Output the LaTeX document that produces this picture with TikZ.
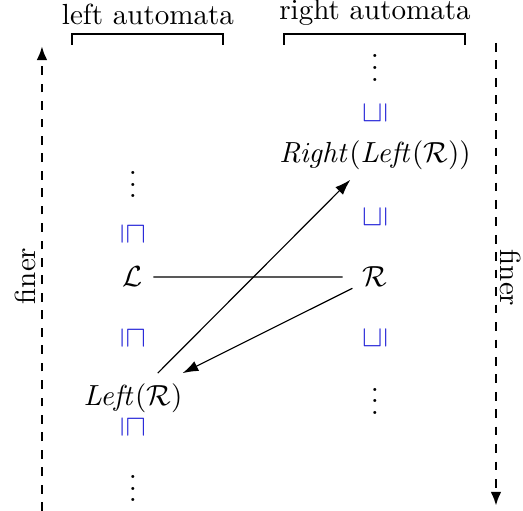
\documentclass[tikz,border=0pt]{standalone}
\usepackage{amsmath,amssymb}
\usepackage{tikz}
\usetikzlibrary{
  arrows.meta,
  positioning
}
\definecolor{OrdBlue}{HTML}{2828D8}
\tikzset{
  ordleft/.style={
    text=OrdBlue,
    rotate=-90,
    inner sep=0pt
  },
  ordright/.style={
    text=OrdBlue,
    rotate=90,
    inner sep=0pt
  },
  finerarrow/.style={
    dashed,
    line width=0.95pt,
    -{Latex[length=1.7mm,width=1.3mm]}
  },
  bracketline/.style={
    line width=0.95pt
  },
  maparrow/.style={
    -{Latex[length=1.9mm,width=1.3mm]}
  }
}

\begin{document}
\begin{tikzpicture}[scale=0.943]
  \useasboundingbox (0,0) rectangle (6.705,6.551);

  % column headers
  \node[anchor=base] (lefthead) at (1.897,6.231) {left automata};
  \node[anchor=base] (righthead) at (4.808,6.295) {right automata};
  \draw[bracketline] (0.923,5.974) |- (2.859,6.115) -- (2.859,5.974);
  \draw[bracketline] (3.641,5.974) |- (5.962,6.115) -- (5.962,5.974);

  % left column
  \node (ldotstop) at (1.705,4.295) {$\vdots$};
  \node[ordleft] (lordA) at (1.705,3.551) {$\sqsubseteq$};
  \node (cL) at (1.705,3.0) {$\mathcal{L}$};
  \node[ordleft] (lordB) at (1.705,2.218) {$\sqsubseteq$};
  \node (leftR) at (1.705,1.449) {$\mathit{Left}(\mathcal{R})$};
  \node[ordleft] (lordC) at (1.705,1.077) {$\sqsubseteq$};
  \node (ldotsbot) at (1.705,0.40) {$\vdots$};

  % right column
  \node (rdotstop) at (4.808,5.79) {$\vdots$};
  \node[ordright] (rordA) at (4.808,5.103) {$\sqsubseteq$};
  \node (rightleftR) at (4.808,4.564)
    {$\mathit{Right}(\mathit{Left}(\mathcal{R}))$};
  \node[ordright] (rordB) at (4.808,3.769) {$\sqsubseteq$};
  \node (cR) at (4.808,3.0) {$\mathcal{R}$};
  \node[ordright] (rordC) at (4.808,2.218) {$\sqsubseteq$};
  \node (rdotsbot) at (4.808,1.52) {$\vdots$};

  % maps between the columns
  \draw[shorten >=3.4pt] (cL) -- (cR);
  \draw[maparrow] (leftR) -- (rightleftR);
  \draw[maparrow] (cR) -- (leftR);

  % refinement direction
  \coordinate (lfinelow) at (0.538,0);
  \coordinate (lfinehigh) at (0.538,5.962);
  \coordinate (rfinehigh) at (6.359,6.0);
  \coordinate (rfinelow) at (6.359,0.064);
  \draw[finerarrow] (lfinelow) -- (lfinehigh);
  \draw[finerarrow] (rfinehigh) -- (rfinelow);
  \node[rotate=90] (lfiner) at (0.321,3.013) {finer};
  \node[rotate=-90] (rfiner) at (6.551,2.987) {finer};
\end{tikzpicture}
\end{document}
